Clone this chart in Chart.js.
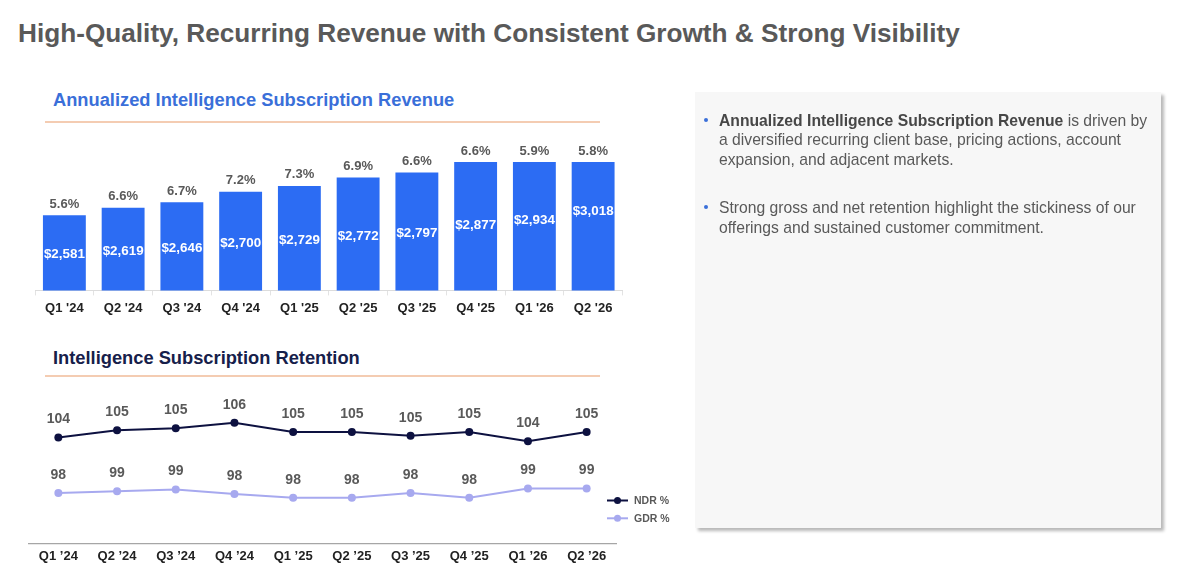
<!DOCTYPE html>
<html>
<head>
<meta charset="utf-8">
<script src="https://cdn.jsdelivr.net/npm/chart.js@4.4.1/dist/chart.umd.min.js"></script>
<style>
  html, body { margin: 0; padding: 0; background: #fff; }
  body { width: 1200px; height: 579px; position: relative; overflow: hidden;
         font-family: "Liberation Sans", Arial, sans-serif; }
  .title { position: absolute; left: 18px; top: 20px; font-size: 26.2px; line-height: 26px;
           font-weight: bold; color: #595959; white-space: nowrap; }
  .sub { position: absolute; left: 53px; font-size: 18.3px; line-height: 18.3px;
         font-weight: bold; white-space: nowrap; }
  .rule { position: absolute; left: 45px; width: 555px; height: 2px; background: #f4ccb2; }
  .panel { position: absolute; left: 695px; top: 92px; width: 466px; height: 436px;
           background: #f7f7f7; box-shadow: 3px 3px 3px rgba(0,0,0,0.28); }
  .panel ul { margin: 0; padding: 0; list-style: none; position: absolute; left: 24px; top: 19px; }
  .panel li { position: relative; font-size: 15.7px; line-height: 19.3px; color: #595959;
              white-space: nowrap; margin-bottom: 29.5px; }
  .panel li b { color: #474747; }
  .panel li::before { content: ""; position: absolute; left: -15px; top: 7px; width: 4px; height: 4px;
                      border-radius: 50%; background: #3a6fd9; }
  canvas { position: absolute; }
</style>
</head>
<body>
<div class="title">High-Quality, Recurring Revenue with Consistent Growth &amp; Strong Visibility</div>

<div class="sub" style="top:90.5px;color:#3a6fd9;">Annualized Intelligence Subscription Revenue</div>
<div class="rule" style="top:121px;"></div>
<canvas id="revChart" style="left:0;top:141px;"></canvas>

<div class="sub" style="top:348.5px;color:#16204a;">Intelligence Subscription Retention</div>
<div class="rule" style="top:375px;"></div>
<canvas id="retChart" style="left:0;top:386px;"></canvas>

<div class="panel">
  <ul>
    <li><b>Annualized Intelligence Subscription Revenue</b> is driven by<br>a diversified recurring client base, pricing actions, account<br>expansion, and adjacent markets.</li>
    <li>Strong gross and net retention highlight the stickiness of our<br>offerings and sustained customer commitment.</li>
  </ul>
</div>

<script>
var barQuarters = ["Q1 '24", "Q2 '24", "Q3 '24", "Q4 '24", "Q1 '25", "Q2 '25", "Q3 '25", "Q4 '25", "Q1 '26", "Q2 '26"];
var revenue = [2581, 2619, 2646, 2700, 2729, 2772, 2797, 2877, 2934, 3018]; // $M
var growth = [5.6, 6.6, 6.7, 7.2, 7.3, 6.9, 6.6, 6.6, 5.9, 5.8]; // % yoy

var retQuarters = ["Q1 \u201924", "Q2 \u201924", "Q3 \u201924", "Q4 \u201924", "Q1 \u201925", "Q2 \u201925", "Q3 \u201925", "Q4 \u201925", "Q1 \u201926", "Q2 \u201926"];
var ndr = [104.4, 105.2, 105.4, 106.0, 105.0, 105.0, 104.6, 105.0, 104.0, 105.0];
var gdr = [98.4, 98.6, 98.8, 98.3, 97.9, 97.9, 98.4, 97.9, 98.9, 98.9];

var FONT = '"Liberation Sans", Arial, sans-serif';

function dollars(v) {
    var s = String(v);
    return '$' + s.slice(0, s.length - 3) + ',' + s.slice(s.length - 3);
}

// labels on the bars: growth % above, $ value inside
var barLabels = {
    id: 'barLabels',
    afterDatasetsDraw: function(chart) {
        var ctx = chart.ctx;
        var area = chart.chartArea;
        var yScale = chart.scales.y;
        var bars = chart.getDatasetMeta(0).data;
        ctx.save();
        ctx.textAlign = 'center';
        ctx.textBaseline = 'middle';
        bars.forEach(function(bar, i) {
            var yTop = yScale.getPixelForValue(revenue[i]);
            var top = Math.max(yTop, area.top);
            ctx.font = 'bold 13px ' + FONT;
            ctx.fillStyle = '#595959';
            ctx.fillText(growth[i].toFixed(1) + '%', bar.x, top - 11);
            ctx.fillStyle = '#ffffff';
            ctx.font = 'bold 13.4px ' + FONT;
            ctx.fillText(dollars(revenue[i]), bar.x, (yTop + area.bottom) / 2 + 2);
        });
        ctx.restore();
    }
};

var pointLabels = {
    id: 'pointLabels',
    afterDatasetsDraw: function(chart) {
        var ctx = chart.ctx;
        ctx.save();
        ctx.textAlign = 'center';
        ctx.textBaseline = 'middle';
        ctx.font = 'bold 14px ' + FONT;
        ctx.fillStyle = '#595959';
        chart.data.datasets.forEach(function(ds, d) {
            chart.getDatasetMeta(d).data.forEach(function(pt, i) {
                ctx.fillText(Math.round(ds.data[i]), pt.x, pt.y - 18);
            });
        });
        ctx.restore();
    }
};

// small legend bottom right: line with a dot, then the name
var sideLegend = {
    id: 'sideLegend',
    afterDraw: function(chart) {
        var ctx = chart.ctx;
        var area = chart.chartArea;
        var x0 = area.right - 9;
        var rows = [area.bottom - 43.5, area.bottom - 25.7];
        ctx.save();
        chart.data.datasets.forEach(function(ds, d) {
            var y = rows[d];
            ctx.strokeStyle = ds.borderColor;
            ctx.lineWidth = 2;
            ctx.beginPath();
            ctx.moveTo(x0, y);
            ctx.lineTo(x0 + 21, y);
            ctx.stroke();
            ctx.fillStyle = ds.borderColor;
            ctx.beginPath();
            ctx.arc(x0 + 10.5, y, 3.5, 0, Math.PI * 2);
            ctx.fill();
            ctx.fillStyle = '#595959';
            ctx.font = 'bold 10.5px ' + FONT;
            ctx.textAlign = 'left';
            ctx.textBaseline = 'middle';
            ctx.fillText(ds.label, x0 + 27, y + 0.5);
        });
        ctx.restore();
    }
};

window.onload = function() {
    var revCanvas = document.getElementById('revChart');
    revCanvas.width = 640; revCanvas.height = 180;
    new Chart(revCanvas.getContext('2d'), {
        type: 'bar',
        data: {
            labels: barQuarters,
            datasets: [{
                label: 'Annualized Intelligence Subscription Revenue',
                data: revenue,
                backgroundColor: '#2c6cf3',
                borderWidth: 0,
                barPercentage: 0.73,
                categoryPercentage: 1,
                clip: 0
            }]
        },
        options: {
            responsive: false,
            animation: false,
            layout: { padding: { left: 35, right: 17.5, top: 21, bottom: 0 } },
            plugins: { legend: { display: false }, tooltip: { enabled: false } },
            scales: {
                x: {
                    grid: { drawOnChartArea: false, color: '#e3e3e3', tickLength: 5 },
                    border: { color: '#dcdcdc' },
                    ticks: { padding: 5, color: '#222', maxRotation: 0, autoSkip: false,
                             font: { family: FONT, size: 13, weight: 'bold' } }
                },
                y: { display: false, min: 2200, max: 2850 }
            }
        },
        plugins: [barLabels]
    });

    var retCanvas = document.getElementById('retChart');
    retCanvas.width = 700; retCanvas.height = 191;
    new Chart(retCanvas.getContext('2d'), {
        type: 'line',
        data: {
            labels: retQuarters,
            datasets: [
                { label: 'NDR %', data: ndr, borderColor: '#0d1140', backgroundColor: '#0d1140',
                  borderWidth: 2, pointRadius: 4, pointBorderWidth: 0, tension: 0 },
                { label: 'GDR %', data: gdr, borderColor: '#a7a9ef', backgroundColor: '#a7a9ef',
                  borderWidth: 2, pointRadius: 4, pointBorderWidth: 0, tension: 0 }
            ]
        },
        options: {
            responsive: false,
            animation: false,
            layout: { padding: { left: 29, right: 84, top: 9, bottom: 7.4 } },
            plugins: { legend: { display: false }, tooltip: { enabled: false } },
            scales: {
                x: {
                    offset: true,
                    grid: { display: false, drawTicks: false },
                    border: { color: '#a6a6a6', width: 1.2 },
                    ticks: { padding: 5, color: '#222', maxRotation: 0, autoSkip: false,
                             font: { family: FONT, size: 13, weight: 'bold' } }
                },
                y: { display: false, min: 92.9, max: 109.0 }
            }
        },
        plugins: [pointLabels, sideLegend]
    });
};
</script>
</body>
</html>
